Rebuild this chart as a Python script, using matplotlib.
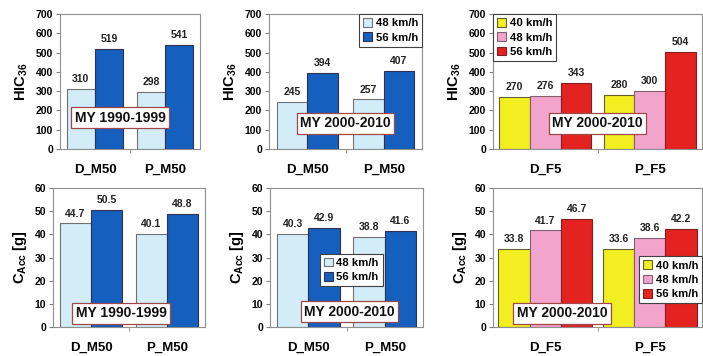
import matplotlib
matplotlib.use("Agg")
import matplotlib.pyplot as plt
from matplotlib.patches import Patch
import numpy as np

plt.rcParams['font.family'] = ['Liberation Sans', 'DejaVu Sans']
plt.rcParams['font.weight'] = 'bold'
plt.rcParams['mathtext.fontset'] = 'custom'
plt.rcParams['mathtext.rm'] = 'Liberation Sans:bold'
plt.rcParams['mathtext.bf'] = 'Liberation Sans:bold'
plt.rcParams['mathtext.default'] = 'bf'

# ---- data ----
cats_m50 = ["D_M50", "P_M50"]
cats_f5 = ["D_F5", "P_F5"]
speeds2 = ["48 km/h", "56 km/h"]
speeds3 = ["40 km/h", "48 km/h", "56 km/h"]

hic_m50_9099 = [[310, 298], [519, 541]]
hic_m50_0010 = [[245, 257], [394, 407]]
hic_f5_0010 = [[270, 280], [276, 300], [343, 504]]

cacc_m50_9099 = [[44.7, 40.1], [50.5, 48.8]]
cacc_m50_0010 = [[40.3, 38.8], [42.9, 41.6]]
cacc_f5_0010 = [[33.8, 33.6], [41.7, 38.6], [46.7, 42.2]]

colors2 = ["#d2ecf8", "#1560be"]
colors3 = ["#f2ee20", "#f2a4cc", "#e42320"]
edges2 = ["#707070", "#303050"]
edges3 = ["#606030", "#806070", "#802020"]

W, H = 703, 356
fig = plt.figure(figsize=(W / 100, H / 100), dpi=100)

def add_ax(l, t, r, b):
    return fig.add_axes([l / W, 1 - b / H, (r - l) / W, (b - t) / H])

boxes = [(60, 14, 200, 149), (269, 14, 422, 149), (493, 14, 702, 149),
         (53, 188, 205, 327), (270, 188, 423, 327), (493, 188, 702, 327)]

panels = [
    dict(cats=cats_m50, vals=hic_m50_9099, colors=colors2, edges=edges2, bw=0.405, ymax=700, step=100,
         ylabel="HIC$_{36}$", fmt="{:.0f}", note="MY 1990-1999", note_xy=(0.43, 0.23), legend=None),
    dict(cats=cats_m50, vals=hic_m50_0010, colors=colors2, edges=edges2, bw=0.40, ymax=700, step=100,
         ylabel="HIC$_{36}$", fmt="{:.0f}", note="MY 2000-2010", note_xy=(0.50, 0.19),
         legend=(speeds2, "upper right", (1.0, 1.0))),
    dict(cats=cats_f5, vals=hic_f5_0010, colors=colors3, edges=edges3, bw=0.295, ymax=700, step=100,
         ylabel="HIC$_{36}$", fmt="{:.0f}", note="MY 2000-2010", note_xy=(0.50, 0.19),
         legend=(speeds3, "upper left", (0.0, 1.0))),
    dict(cats=cats_m50, vals=cacc_m50_9099, colors=colors2, edges=edges2, bw=0.41, ymax=60, step=10,
         ylabel="C$_{Acc}$ [g]", fmt="{:.1f}", note="MY 1990-1999", note_xy=(0.45, 0.10), legend=None),
    dict(cats=cats_m50, vals=cacc_m50_0010, colors=colors2, edges=edges2, bw=0.41, ymax=60, step=10,
         ylabel="C$_{Acc}$ [g]", fmt="{:.1f}", note="MY 2000-2010", note_xy=(0.52, 0.11),
         legend=(speeds2, "center", (0.53, 0.41))),
    dict(cats=cats_f5, vals=cacc_f5_0010, colors=colors3, edges=edges3, bw=0.30, ymax=60, step=10,
         ylabel="C$_{Acc}$ [g]", fmt="{:.1f}", note="MY 2000-2010", note_xy=(0.33, 0.10),
         legend=(speeds3, "center right", (1.0, 0.34))),
]

for box, p in zip(boxes, panels):
    ax = add_ax(*box)
    n = len(p["vals"])
    x = np.arange(len(p["cats"]))
    bw = p["bw"]
    for i, (vals, c, ec) in enumerate(zip(p["vals"], p["colors"], p["edges"])):
        pos = x + (i - (n - 1) / 2) * bw
        ax.bar(pos, vals, bw, color=c, edgecolor=ec, linewidth=0.8, zorder=2)
        for xi, v in zip(pos, vals):
            ax.text(xi, v + p["ymax"] * 0.035, p["fmt"].format(v), ha="center", va="bottom",
                    fontsize=7.5, fontweight="bold", color="#222222")
    ax.set_xlim(-0.5, len(p["cats"]) - 0.5)
    ax.set_ylim(0, p["ymax"])
    ax.set_yticks(np.arange(0, p["ymax"] + 1, p["step"]))
    ax.set_xticks(x)
    ax.set_xticklabels(p["cats"], fontsize=9.5, fontweight="bold")
    ax.set_xticks([0.5], minor=True)
    ax.tick_params(axis="x", which="major", length=0, pad=11)
    ax.tick_params(axis="x", which="minor", length=3, color="#808080")
    ax.tick_params(axis="y", length=3, color="#808080", labelsize=7.5, pad=2)
    for lab in ax.get_yticklabels():
        lab.set_fontweight("bold")
    for s in ax.spines.values():
        s.set_color("#909090")
        s.set_linewidth(0.8)
    ax.set_ylabel(p["ylabel"], fontsize=10.5, fontweight="bold", labelpad=4)
    ax.text(p["note_xy"][0], p["note_xy"][1], p["note"], transform=ax.transAxes, ha="center", va="center",
            fontsize=10, fontweight="bold", color="#111111", zorder=5,
            bbox=dict(boxstyle="square,pad=0.25", facecolor="white", edgecolor="#a04848", linewidth=0.9))
    if p["legend"] is not None:
        labels, loc, anchor = p["legend"]
        handles = [Patch(facecolor=c, edgecolor=ec, linewidth=0.8) for c, ec in zip(p["colors"], p["edges"])]
        leg = ax.legend(handles, labels, loc=loc, bbox_to_anchor=anchor, handlelength=0.8,
                        handleheight=0.8, handletextpad=0.3, borderpad=0.35, labelspacing=0.35,
                        borderaxespad=0.0, fancybox=False, framealpha=1, edgecolor="#404040",
                        prop=dict(weight="bold", size=8.2))
        leg.get_frame().set_linewidth(0.8)
        leg.set_zorder(6)

fig.savefig("out.png", dpi=100)
